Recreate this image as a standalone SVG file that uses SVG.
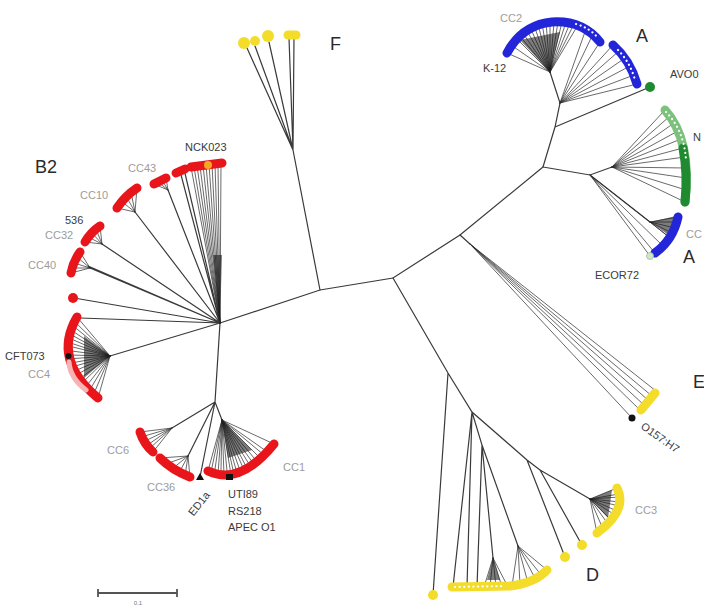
<svg xmlns="http://www.w3.org/2000/svg" width="704" height="608" viewBox="0 0 704 608">
<style>
.br{stroke:#3a3a3a;stroke-width:1.2;fill:none;stroke-linecap:round}
.fan{stroke:#2a2a2a;stroke-width:0.7;fill:none;stroke-linecap:round}
.arc{fill:none;stroke-width:9;stroke-linecap:round}
.red{stroke:#e8151b}
.blue{stroke:#2226d8}
.green{stroke:#1f8a2f}
.lgreen{stroke:#7cc27c}
.yel{stroke:#f3dc2a}
.dots{fill:none;stroke:#ffffff;stroke-width:2.2;stroke-dasharray:0.1 4.5;stroke-linecap:round}
.wedge{fill:#111;opacity:0.55}
text{font-family:"Liberation Sans",Arial,sans-serif}
.lbl{font-size:11px;fill:#3a3a3a}
.gr{font-size:11px;fill:#9c9c9c}
.big{font-size:18px;fill:#2a2a2a}
</style>
<rect width="704" height="608" fill="#ffffff"/>

<g id="connectors">
  <path class="br" d="M220,323 L320,290 L393,278 L460,235 L543,167"/>
  <path class="br" d="M320,290 L293,150 M293,150 L247,48 M293,150 L255,46 M293,150 L269,42 M293,150 L289,38 M293,150 L294,38"/>
  <path class="br" d="M460,235 L470,244"/>
  <path class="fan" d="M470,244 L632,418 M470,244 L640,410 M470,244 L644,405 M470,244 L648,400 M470,244 L652,396 M470,244 L656,391"/>
  <path class="br" d="M543,167 L555,127 L560,103 L550,72 M555,127 L650,87 M543,167 L590,175 L612,167 M590,175 L650,222"/>
  <path class="fan" d="M550,72 L507,53 M550,72 L511,45 M550,72 L516,38 M550,72 L519,35 M550,72 L522,32 M550,72 L526,29 M550,72 L530,27 M550,72 L534,25 M550,72 L538,24 M550,72 L542,23 M550,72 L546,22 M550,72 L550,22 M550,72 L554,22 M550,72 L558,22 M550,72 L562,22 M550,72 L566,22 M550,72 L570,23 M550,72 L574,24 M550,72 L578,25"/>
  <path class="wedge" d="M550,72 L520,40 L560,32 Z"/>
  <path class="fan" d="M560,103 L586,29 M560,103 L593,34 M560,103 L600,42 M560,103 L613,45 M560,103 L619,51 M560,103 L625,58 M560,103 L630,66 M560,103 L634,75 M560,103 L637,84"/>
  <path class="fan" d="M612,167 L665,110 M612,167 L670,116 M612,167 L674,123 M612,167 L678,131 M612,167 L681,139 M612,167 L683,148 M612,167 L685,157 M612,167 L686,168 M612,167 L686,178 M612,167 L686,190 M612,167 L685,202"/>
  <path class="fan" d="M590,175 L655,253 M590,175 L650,256 M590,175 L663,246 M590,175 L669,237"/>
  <path class="fan" d="M650,222 L678,217 M650,222 L676,222 M650,222 L675,228 M650,222 L672,233 M650,222 L669,237"/>
  <path class="wedge" d="M650,222 L676,216 L670,236 Z"/>
  <path class="br" d="M393,278 L448,373 L472,412 L527,460 L540,470 M448,373 L433,595 M472,412 L453,587 M472,412 L467,587 M472,412 L482,445 L477,587 M482,445 L493,558 M482,445 L518,546 M527,460 L565,557 M540,470 L582,545 M540,470 L590,499"/>
  <path class="fan" d="M493,558 L484,587 M493,558 L490,587 M493,558 L496,587 M493,558 L502,587 M493,558 L508,587"/>
  <path class="wedge" d="M493,558 L487,580 L500,580 Z"/>
  <path class="fan" d="M518,546 L512,586 M518,546 L520,585 M518,546 L528,583 M518,546 L536,580 M518,546 L542,576 M518,546 L547,570"/>
  <path class="fan" d="M590,499 L617,488 M590,499 L619,494 M590,499 L620,497 M590,499 L620,502 M590,499 L619,506 M590,499 L617,511 M590,499 L615,515 M590,499 L611,520 M590,499 L608,524 M590,499 L603,529 M590,499 L597,533"/>
  <path class="wedge" d="M590,499 L612,490 L608,518 Z"/>
  <path class="br" d="M220,323 L110,356 M220,323 L74,298 M220,323 L80,318 M220,323 L90,268 M220,323 L88,266 M220,323 L102,244 M220,323 L135,212 M220,323 L168,190 M220,323 L180,171 M220,323 L184,169 M220,323 L215,402 L222,420 M215,402 L172,428 M215,402 L188,456 M215,402 L200,477"/>
  <path class="fan" d="M110,356 L77,317 M110,356 L74,321 M110,356 L72.7,325.6 M110,356 L71,330 M110,356 L69.8,334 M110,356 L69,338 M110,356 L68.4,342.3 M110,356 L68.4,346 M110,356 L68.4,350.6 M110,356 L69,355 M110,356 L69.8,358.8 M110,356 L71,363 M110,356 L72.6,366.8 M110,356 L74.5,371 M110,356 L76.8,374.7 M110,356 L79.5,379 M110,356 L82.4,382.6 M110,356 L86,386.5 M110,356 L89.5,390.4 M110,356 L93.5,394.5 M110,356 L98,398"/>
  <path class="wedge" d="M110,356 L84,336 L84,378 Z"/>
  <path class="fan" d="M90,268 L80,252 M90,268 L77,257 M90,268 L74,263 M90,268 L72,268 M90,268 L71,273"/>
  <path class="fan" d="M102,244 L100,226 M102,244 L96,229 M102,244 L92,233 M102,244 L88,237 M102,244 L85,242"/>
  <path class="fan" d="M135,212 L137,188 M135,212 L131,192 M135,212 L126,196 M135,212 L121,201 M135,212 L117,208"/>
  <path class="fan" d="M168,190 L154,184 M168,190 L158,182 M168,190 L162,180 M168,190 L166,178"/>
  <path class="fan" d="M220,323 L191,167 M220,323 L194,167 M220,323 L197,166 M220,323 L200,166 M220,323 L203,165 M220,323 L206,165 M220,323 L209,164 M220,323 L212,164 M220,323 L215,164 M220,323 L218,163 M220,323 L221,163"/>
  <path class="wedge" d="M220,323 L213,255 L222,255 Z"/>
  <path class="fan" d="M172,428 L140,432 M172,428 L141,437 M172,428 L143,442 M172,428 L146,446 M172,428 L149,449 M172,428 L153,452"/>
  <path class="fan" d="M188,456 L160,458 M188,456 L166,464 M188,456 L172,469 M188,456 L179,473 M188,456 L185,476 M188,456 L190,477"/>
  <path class="fan" d="M222,420 L208,471 M222,420 L211,472 M222,420 L214.4,473.4 M222,420 L218,474 M222,420 L220.9,474.7 M222,420 L224,475 M222,420 L227.4,474.9 M222,420 L231,474.5 M222,420 L233.9,473.9 M222,420 L237,473 M222,420 L240.5,471.8 M222,420 L244,470 M222,420 L247.1,468.5 M222,420 L250.5,466.5 M222,420 L253.8,464.1 M222,420 L257,461.5 M222,420 L260.5,458.5 M222,420 L264,455 M222,420 L267.2,451.8 M222,420 L274,444"/>
  <path class="wedge" d="M222,420 L228,458 L252,450 Z"/>
</g>

<g id="clade-A-CC2">
  <path class="arc blue" d="M507,53 Q522,25 552,22 Q582,20 600,42"/>
  <path class="dots" d="M576,24 Q590,28 598,38"/>
  <text class="gr" x="500" y="22">CC2</text>
  <text class="lbl" x="483" y="72">K-12</text>
</g>
<g id="clade-A-upper2">
  <path class="arc blue" d="M613,45 Q630,60 637,84"/>
  <path class="dots" d="M618,50 Q630,62 635,80"/>
  <text class="big" x="636" y="42">A</text>
</g>
<g id="node-AVO">
  <circle cx="650" cy="87" r="5" fill="#1f8a2f"/>
  <text class="lbl" x="670" y="78">AVO0</text>
</g>
<g id="clade-green">
  <path class="arc lgreen" d="M665,110 Q692,140 685,202"/>
  <path class="arc green" d="M683,148 Q688,175 685,202"/>
  <path class="dots" d="M666,112 Q684,130 686,160"/>
  <text class="lbl" x="693" y="141">N</text>
</g>
<g id="clade-A-lower">
  <path class="arc blue" d="M678,217 Q673,240 655,253"/>
  <circle cx="650" cy="256" r="3.5" fill="#cfe6c8" stroke="#9bbf95" stroke-width="0.8"/>
  <text class="gr" x="686" y="238">CC</text>
  <text class="big" x="683" y="263">A</text>
  <text class="lbl" x="595" y="279" fill="#555">ECOR72</text>
</g>
<g id="clade-E">
  <path class="arc yel" d="M641,410 L655,393"/>
  <circle cx="632" cy="418" r="3.5" fill="#111"/>
  <text class="big" x="693" y="388">E</text>
  <text class="lbl" font-size="10" x="640" y="428" transform="rotate(35 640 428)">O157:H7</text>
</g>
<g id="clade-D">
  <circle cx="433" cy="595" r="5" fill="#f3dc2a"/>
  <path class="arc yel" d="M452,587 L510,586 Q535,583 547,570"/>
  <path class="dots" d="M455,587 L505,586"/>
  <circle cx="565" cy="557" r="5" fill="#f3dc2a"/>
  <circle cx="582" cy="545" r="5" fill="#f3dc2a"/>
  <text class="big" x="586" y="581">D</text>
</g>
<g id="clade-CC3">
  <path class="arc yel" d="M617,488 Q628,510 597,533"/>
  <text class="gr" x="635" y="514">CC3</text>
</g>
<g id="clade-F">
  <circle cx="244" cy="43" r="6" fill="#f3dc2a"/>
  <circle cx="255" cy="41" r="5" fill="#f3dc2a"/>
  <circle cx="268" cy="36" r="6" fill="#f3dc2a"/>
  <path class="arc yel" d="M288,35 L296,35"/>
  <text class="big" x="330" y="50">F</text>
</g>
<g id="clade-B2-CC43">
  <path class="arc red" d="M154,184 L166,178"/>
  <path class="arc red" d="M176,173 L185,169"/>
  <path class="arc red" d="M191,167 L222,163"/>
  <circle cx="208" cy="165" r="4" fill="#f5a623"/>
  <text class="gr" x="128" y="172">CC43</text>
  <text class="lbl" x="185" y="151">NCK023</text>
  <text class="big" x="35" y="173">B2</text>
</g>
<g id="clade-B2-CC10">
  <path class="arc red" d="M137,188 Q125,196 117,208"/>
  <text class="gr" x="80" y="199">CC10</text>
</g>
<g id="clade-B2-CC32">
  <path class="arc red" d="M100,226 Q91,232 85,242"/>
  <text class="lbl" x="65" y="224">536</text>
  <text class="gr" x="45" y="239">CC32</text>
</g>
<g id="clade-B2-CC40">
  <path class="arc red" d="M80,252 Q73,262 71,273"/>
  <text class="gr" x="28" y="269">CC40</text>
</g>
<g id="node-B2-single">
  <circle cx="73" cy="298" r="5" fill="#e8151b"/>
</g>
<g id="clade-B2-CC4">
  <path class="arc red" d="M77,317 Q52,360 98,398"/>
  <path d="M69,362 Q70,378 86,390" fill="none" stroke="#f6b3b3" stroke-width="5" stroke-linecap="round"/>
  <circle cx="68.5" cy="356" r="3" fill="#111"/>
  <text class="lbl" x="5" y="360">CFT073</text>
  <text class="gr" x="28" y="378">CC4</text>
</g>
<g id="clade-B2-CC6">
  <path class="arc red" d="M140,432 Q144,444 153,452"/>
  <text class="gr" x="107" y="454">CC6</text>
</g>
<g id="clade-B2-CC36">
  <path class="arc red" d="M160,458 Q172,470 190,477"/>
  <text class="gr" x="147" y="491">CC36</text>
</g>
<g id="node-ED1a">
  <path d="M196,480 L204,480 L200,473 Z" fill="#111"/>
  <text class="lbl" font-size="10" x="202" y="506" text-anchor="middle" transform="rotate(-52 202 506)">ED1a</text>
</g>
<g id="clade-B2-CC1">
  <path class="arc red" d="M208,471 Q240,486 274,444"/>
  <path d="M226,477 L233,477" stroke="#111" stroke-width="6" fill="none"/>
  <text class="gr" x="283" y="471">CC1</text>
  <text class="lbl" x="228" y="498">UTI89</text>
  <text class="lbl" x="228" y="515">RS218</text>
  <text class="lbl" x="228" y="531">APEC O1</text>
</g>
<g id="scale-bar">
  <path d="M98,593 L177,593 M98,589 L98,597 M177,589 L177,597" stroke="#555" stroke-width="1.8" fill="none"/>
  <text x="138" y="605" font-size="6" fill="#777" text-anchor="middle">0.1</text>
</g>
</svg>
